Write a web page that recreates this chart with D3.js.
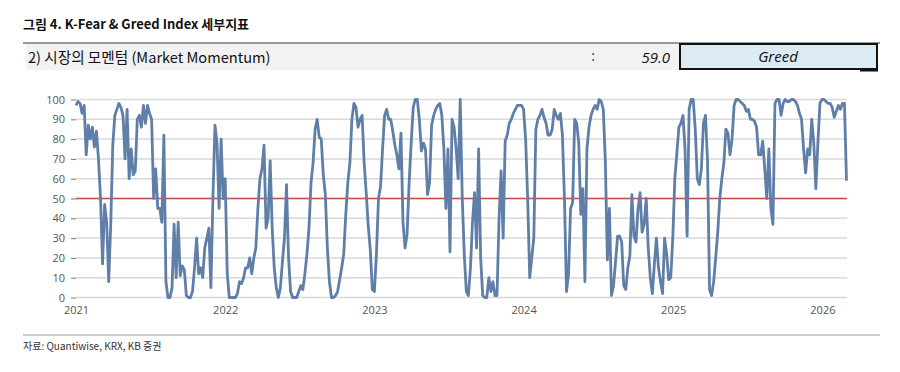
<!DOCTYPE html>
<html><head><meta charset="utf-8">
<script src="https://cdn.jsdelivr.net/npm/d3@7"></script>
<style>
html,body{margin:0;padding:0;background:#fff;}
svg{display:block;}
</style>
</head><body>
<div id="chart"></div>
<script>
// ---- data ----
const titleText = "그림 4. K-Fear & Greed Index 세부지표";
const subtitleText = "2) 시장의 모멘텀 (Market Momentum)";
const currentValue = "59.0";
const currentLabel = "Greed";
const sourceText = "자료: Quantiwise, KRX, KB 증권";
const startDate = "2021-01-01";
const stepDays = 5;
const yTicks = [0,10,20,30,40,50,60,70,80,90,100];
const xTickYears = [2021,2022,2023,2024,2025,2026];
const thresholdValue = 50;
const momentum = [
 97,99,98,93,97,72,87,80,86,76,84,
 70,50,17,47,38,8,37,77,92,95,
 98,96,92,70,95,60,75,62,64,90,
 92,86,97,88,97,93,90,50,65,45,
 45,38,82,8,0,0,5,37,10,38,
 11,16,14,1,0,0,3,15,30,12,
 15,10,25,30,35,5,50,87,78,45,
 80,50,60,12,0,0,0,0,2,8,
 7,10,15,15,20,12,20,25,45,60,
 65,77,35,40,69,35,15,5,0,5,
 18,30,57,20,3,0,0,0,3,6,
 4,12,22,35,58,68,85,90,81,80,
 62,52,25,8,0,0,1,3,9,15,
 22,42,58,68,90,98,96,86,90,92,
 68,53,36,24,4,3,22,50,56,
 75,92,95,90,90,84,77,72,65,83,38,
 25,32,58,78,96,100,100,90,74,78,
 75,52,58,
 87,92,95,97,98,92,75,
 45,75,23,90,86,75,60,100,50,21,
 3,1,15,38,53,25,75,20,1,0,
 0,10,3,8,1,1,40,64,30,79,
 82,88,90,93,95,97,97,97,95,80,
 50,10,20,30,85,90,92,95,91,88,82,
 82,85,95,92,90,93,
 82,50,3,12,45,48,90,88,78,42,55,8,75,
 86,92,95,97,95,
 100,99,95,69,19,
 45,1,6,18,31,31,28,6,4,15,
 21,52,31,28,45,53,33,37,50,25,
 10,2,17,30,15,8,2,30,22,9,
 10,30,60,73,86,88,92,75,31,95,
 100,100,85,60,57,65,88,92,69,4,
 1,8,20,33,50,
 60,68,85,83,72,80,97,100,100,99,98,97,94,95,90,
 90,89,86,72,72,79,65,50,75,45,
 37,98,100,100,92,98,100,99,99,100,
 100,99,97,93,90,75,63,75,72,90,
 78,55,78,98,100,100,99,98,98,96,
 91,94,97,95,98,98,59
];

// ---- build ----
const W = 900, H = 372;
const svg = d3.select("#chart").append("svg").attr("width", W).attr("height", H);
const kfont = "'Noto Sans CJK KR', 'Noto Sans', sans-serif";
const afont = "'Open Sans', 'Noto Sans', sans-serif";

const t0 = d3.isoParse(startDate);
const data = momentum.map((v, i) => ({ date: d3.timeDay.offset(t0, i * stepDays), v }));

// Header
svg.append("text").attr("x", 23).attr("y", 29)
  .attr("font-family", kfont).attr("font-size", 13).attr("font-weight", 600)
  .attr("fill", "#111").text(titleText);
svg.append("line").attr("x1", 23).attr("x2", 880).attr("y1", 43).attr("y2", 43)
  .attr("stroke", "#9a9a9a").attr("stroke-width", 2);
svg.append("rect").attr("x", 26).attr("y", 44).attr("width", 654).attr("height", 26).attr("fill", "#f2f2f2");
svg.append("text").attr("x", 28).attr("y", 62.5)
  .attr("font-family", kfont).attr("font-size", 14.6).attr("fill", "#111").text(subtitleText);
svg.append("text").attr("x", 593).attr("y", 61)
  .attr("font-family", afont).attr("font-size", 14).attr("fill", "#333").attr("text-anchor", "middle").text(":");
svg.append("text").attr("x", 670).attr("y", 62.5)
  .attr("font-family", afont).attr("font-size", 15).attr("font-style", "italic")
  .attr("fill", "#111").attr("text-anchor", "end").text(currentValue);
svg.append("rect").attr("x", 860).attr("y", 69).attr("width", 18).attr("height", 2.5).attr("fill", "#111");
svg.append("rect").attr("x", 680).attr("y", 44).attr("width", 197).attr("height", 25)
  .attr("fill", "#dcebf3").attr("stroke", "#111").attr("stroke-width", 2);
svg.append("text").attr("x", 778).attr("y", 62)
  .attr("font-family", afont).attr("font-size", 15).attr("font-style", "italic")
  .attr("fill", "#111").attr("text-anchor", "middle").text(currentLabel);

// Scales
const x = d3.scaleTime().domain([t0, data[data.length - 1].date]).range([76, 846.5]);
const y = d3.scaleLinear().domain([0, 100]).range([297.5, 99.5]);
const gridRight = 847;

// Gridlines
svg.append("g").selectAll("line").data(yTicks).join("line")
  .attr("x1", 76).attr("x2", gridRight)
  .attr("y1", d => y(d)).attr("y2", d => y(d))
  .attr("stroke", "#d9d9d9").attr("stroke-width", 1.5);

// Y axis
const yAxis = d3.axisLeft(y).tickValues(yTicks).tickSize(5).tickPadding(6).tickFormat(d3.format("d"));
const gy = svg.append("g").attr("transform", "translate(76,0)").call(yAxis);
gy.select(".domain").remove();
gy.selectAll(".tick line").attr("stroke", "#777");
gy.selectAll("text").attr("font-family", afont).attr("font-size", 11).attr("fill", "#555");

// X axis
const xAxis = d3.axisBottom(x).tickValues(xTickYears.map(yy => new Date(yy, 0, 1)))
  .tickSize(0).tickPadding(9).tickFormat(d3.timeFormat("%Y"));
const gx = svg.append("g").attr("transform", "translate(0,297.5)").call(xAxis);
gx.select(".domain").remove();
gx.selectAll("text").attr("font-family", afont).attr("font-size", 11).attr("fill", "#555");

// Threshold line
svg.append("line").attr("x1", 76).attr("x2", gridRight)
  .attr("y1", y(thresholdValue)).attr("y2", y(thresholdValue))
  .attr("stroke", "#c0504d").attr("stroke-width", 1.5);

// Data line
const line = d3.line().x(d => x(d.date)).y(d => y(d.v));
svg.append("path").datum(data).attr("d", line)
  .attr("fill", "none").attr("stroke", "#5f7fa8").attr("stroke-width", 2.8)
  .attr("stroke-linejoin", "round");

// Footer
svg.append("line").attr("x1", 23).attr("x2", 880).attr("y1", 335).attr("y2", 335)
  .attr("stroke", "#bbbbbb").attr("stroke-width", 1.5);
svg.append("text").attr("x", 23).attr("y", 349.5)
  .attr("font-family", kfont).attr("font-size", 10).attr("fill", "#333").text(sourceText);
</script>
</body></html>
